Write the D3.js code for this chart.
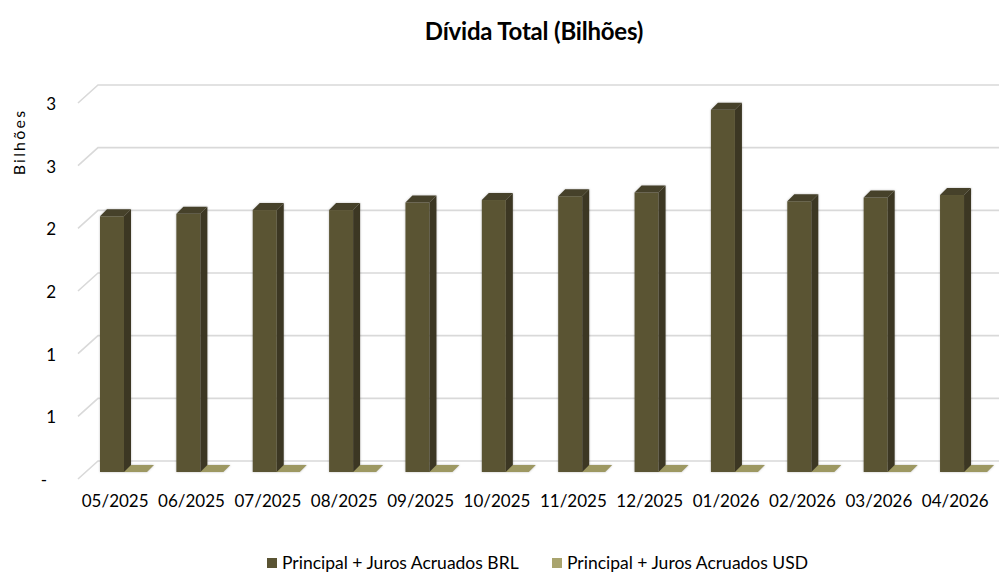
<!doctype html>
<meta charset="utf-8" />
<style>
    body { margin: 0; background: #fff; }
    text { font-family: Lato, "Open Sans", sans-serif; fill: #000; }
</style>
<svg></svg>

<script src="https://cdn.jsdelivr.net/npm/d3@7"></script>

<script>
    var meses = ['05/2025', '06/2025', '07/2025', '08/2025', '09/2025', '10/2025',
        '11/2025', '12/2025', '01/2026', '02/2026', '03/2026', '04/2026'];
    var brl = [2.04, 2.06, 2.09, 2.09, 2.15, 2.17, 2.20, 2.23, 2.89, 2.16, 2.19, 2.21];
    var usd = [0, 0, 0, 0, 0, 0, 0, 0, 0, 0, 0, 0];
    var yTicks = [0, 0.5, 1, 1.5, 2, 2.5, 3];
    var series = ['Principal + Juros Acruados BRL', 'Principal + Juros Acruados USD'];

    var W = 999, H = 573;
    var svg = d3.select('svg')
        .attr('width', W)
        .attr('height', H)

    // 3d offsets
    var wallDx = 20, wallDy = -17;
    var barDx = 7, barDy = -7;
    var barW = 24;

    var x = d3.scaleBand().domain(meses).range([78, 994.4]);
    // front edge of the floor/grid
    var yFront = d3.scaleLinear().domain([0, 3]).range([478, 102]);
    // plane where bars stand
    var yBar = d3.scaleLinear().domain([0, 3]).range([472, 96]);

    var fmt = function (v) { return v === 0 ? '-' : String(Math.round(v)); };

    // grid
    var grid = svg.append('g')
        .attr('fill', 'none')
        .attr('stroke', '#d9d9d9')
        .attr('stroke-width', 1.6)
    yTicks.forEach(function (t) {
        var yf = yFront(t);
        grid.append('path')
            .attr('d', 'M78,' + (yf + 1) + 'L' + (78 + wallDx) + ',' + (yf + wallDy) + 'L' + W + ',' + (yf + wallDy))
    })

    // y labels
    svg.append('g').selectAll('text')
        .data(yTicks)
        .join('text')
        .attr('x', function (d) { return d === 0 ? 47 : 56; })
        .attr('y', function (d) { return yFront(d) + 8; })
        .attr('text-anchor', 'end')
        .style('font-size', '17px')
        .text(fmt)

    svg.append('text')
        .attr('transform', 'translate(25,142) rotate(-90)')
        .attr('text-anchor', 'middle')
        .style('font-size', '16px')
        .style('letter-spacing', '2.2px')
        .text('Bilhões')

    // bars
    var cols = {
        brl: { front: '#5a5433', side: '#3c3723', top: '#46412a' },
        usd: { front: '#a9a46e', side: '#8d8857', top: '#9d9862' }
    };

    function drawBar(g, x0, v, c) {
        var top = yBar(v), bot = yBar(0);
        var pts = function (a) { return a.map(function (p) { return p.join(','); }).join(' '); };
        if (top < bot - 0.5) {
            g.append('rect')
                .attr('x', x0).attr('y', top)
                .attr('width', barW).attr('height', bot - top)
                .attr('fill', c.front)
            g.append('polygon')
                .attr('points', pts([[x0 + barW, top], [x0 + barW + barDx, top + barDy],
                    [x0 + barW + barDx, bot + barDy], [x0 + barW, bot]]))
                .attr('fill', c.side)
        }
        g.append('polygon')
            .attr('points', pts([[x0, top], [x0 + barDx, top + barDy],
                [x0 + barW + barDx, top + barDy], [x0 + barW, top]]))
            .attr('fill', c.top)
    }

    var bars = svg.append('g')
        .style('filter', 'drop-shadow(0 0 1px rgba(0,0,0,0.25))')
    meses.forEach(function (m, i) {
        var x0 = x(m) + 22;
        drawBar(bars, x0 + barW - 1, usd[i], cols.usd);
        drawBar(bars, x0, brl[i], cols.brl);
    })

    // x labels
    svg.append('g').selectAll('text')
        .data(meses)
        .join('text')
        .attr('x', function (d) { return x(d) + x.bandwidth() / 2 - 1; })
        .attr('y', 507)
        .attr('text-anchor', 'middle')
        .style('font-size', '17px')
        .text(function (d) { return d; })

    // title
    svg.append('text')
        .attr('x', 534)
        .attr('y', 40)
        .attr('text-anchor', 'middle')
        .style('font-size', '24px')
        .style('font-weight', 'bold')
        .style('letter-spacing', '-0.2px')
        .text('Dívida Total (Bilhões)')

    // legend
    var legX = [267, 552];
    var leg = svg.append('g').selectAll('g')
        .data(series)
        .join('g')
        .attr('transform', function (d, i) { return 'translate(' + legX[i] + ',558)'; })
    leg.append('rect')
        .attr('width', 10).attr('height', 10)
        .attr('fill', function (d, i) { return i === 0 ? cols.brl.front : cols.usd.front; })
    leg.append('text')
        .attr('x', 15)
        .attr('y', 11)
        .style('font-size', '17.5px')
        .text(function (d) { return d; })
</script>
